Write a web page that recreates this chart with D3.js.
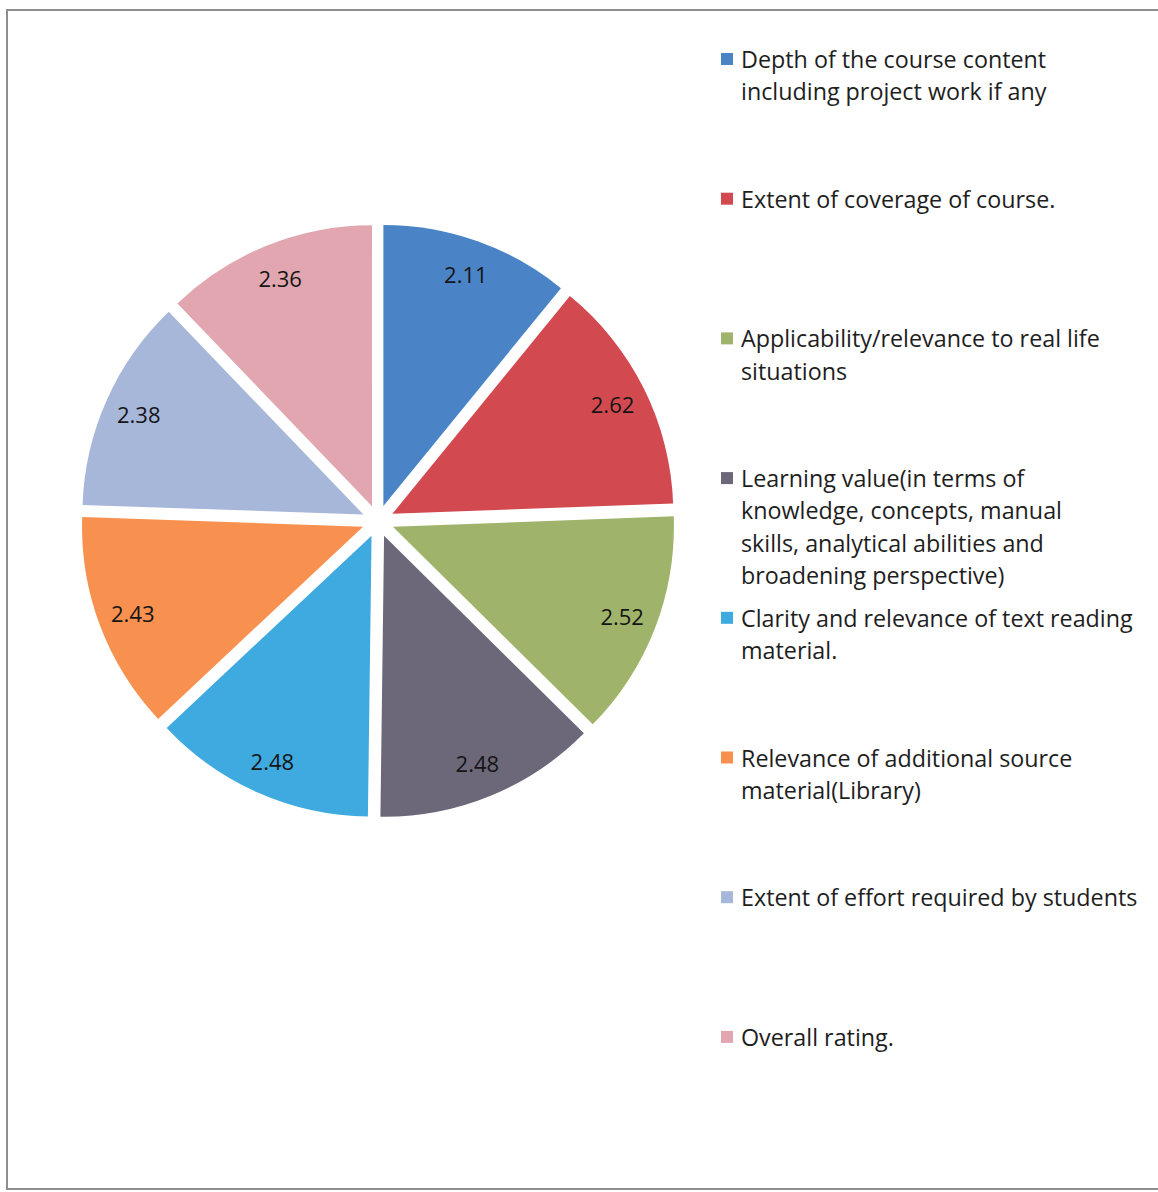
<!DOCTYPE html>
<html>
<head>
<meta charset="utf-8">
<script src="https://cdn.jsdelivr.net/npm/d3@7"></script>
<style>
  html, body { margin: 0; padding: 0; background: #fff; }
  svg { display: block; }
</style>
</head>
<body>
<svg id="chart" width="1158" height="1192"></svg>
<script>
const categories = [
  "Depth of the course content\nincluding project work if any",
  "Extent of coverage of course.",
  "Applicability/relevance to real life\nsituations",
  "Learning value(in terms of\nknowledge, concepts, manual\nskills, analytical abilities and\nbroadening perspective)",
  "Clarity and relevance of text reading\nmaterial.",
  "Relevance of additional source\nmaterial(Library)",
  "Extent of effort required by students",
  "Overall rating."
];
const values = [2.11, 2.62, 2.52, 2.48, 2.48, 2.43, 2.38, 2.36];
const valueLabels = ["2.11", "2.62", "2.52", "2.48", "2.48", "2.43", "2.38", "2.36"];
const colors = ["#4a84c6", "#d2494f", "#9fb46a", "#6c6879", "#3eaadf", "#f8914f", "#a7b7da", "#e1a6b0"];

const svg = d3.select("#chart");

// frame
svg.append("rect").attr("x", 7).attr("y", 10).attr("width", 1160).attr("height", 1179)
  .attr("fill", "none").attr("stroke", "#8e8e8e").attr("stroke-width", 2);

const cx = 378, cy = 521, R = 281, explode = 16, labelR = 246;

const pie = d3.pie().sort(null).value(d => d)
  .startAngle(0).endAngle(2 * Math.PI);
const arcs = pie(values);
const arc = d3.arc().innerRadius(0).outerRadius(R);
const labelArc = d3.arc().innerRadius(labelR).outerRadius(labelR);

const g = svg.append("g").attr("transform", `translate(${cx},${cy})`);

const slice = g.selectAll("g.slice").data(arcs).enter().append("g")
  .attr("class", "slice")
  .attr("transform", d => {
    const a = (d.startAngle + d.endAngle) / 2;
    return `translate(${explode * Math.sin(a)},${-explode * Math.cos(a)})`;
  });

slice.append("path")
  .attr("d", arc)
  .attr("fill", (d, i) => colors[i]);

slice.append("text")
  .attr("transform", d => `translate(${labelArc.centroid(d)})`)
  .attr("text-anchor", "middle")
  .attr("dominant-baseline", "central")
  .attr("font-family", "'Open Sans', Lato, sans-serif")
  .attr("font-size", 22)
  .attr("fill", "#151515")
  .text((d, i) => valueLabels[i]);

// legend
const legendX = 721, legendY0 = 59, legendStep = 139.7, lineH = 32.3;
const legend = svg.append("g");
categories.forEach((c, i) => {
  const y = legendY0 + i * legendStep;
  legend.append("rect")
    .attr("x", legendX).attr("y", y - 6).attr("width", 12).attr("height", 12)
    .attr("fill", colors[i]);
  const t = legend.append("text")
    .attr("font-family", "'Open Sans', Lato, sans-serif")
    .attr("font-size", 23.3)
    .attr("fill", "#1e1e1e");
  c.split("\n").forEach((line, j) => {
    t.append("tspan")
      .attr("x", legendX + 20)
      .attr("y", y + j * lineH)
      .attr("dominant-baseline", "central")
      .text(line);
  });
});
</script>
</body>
</html>
